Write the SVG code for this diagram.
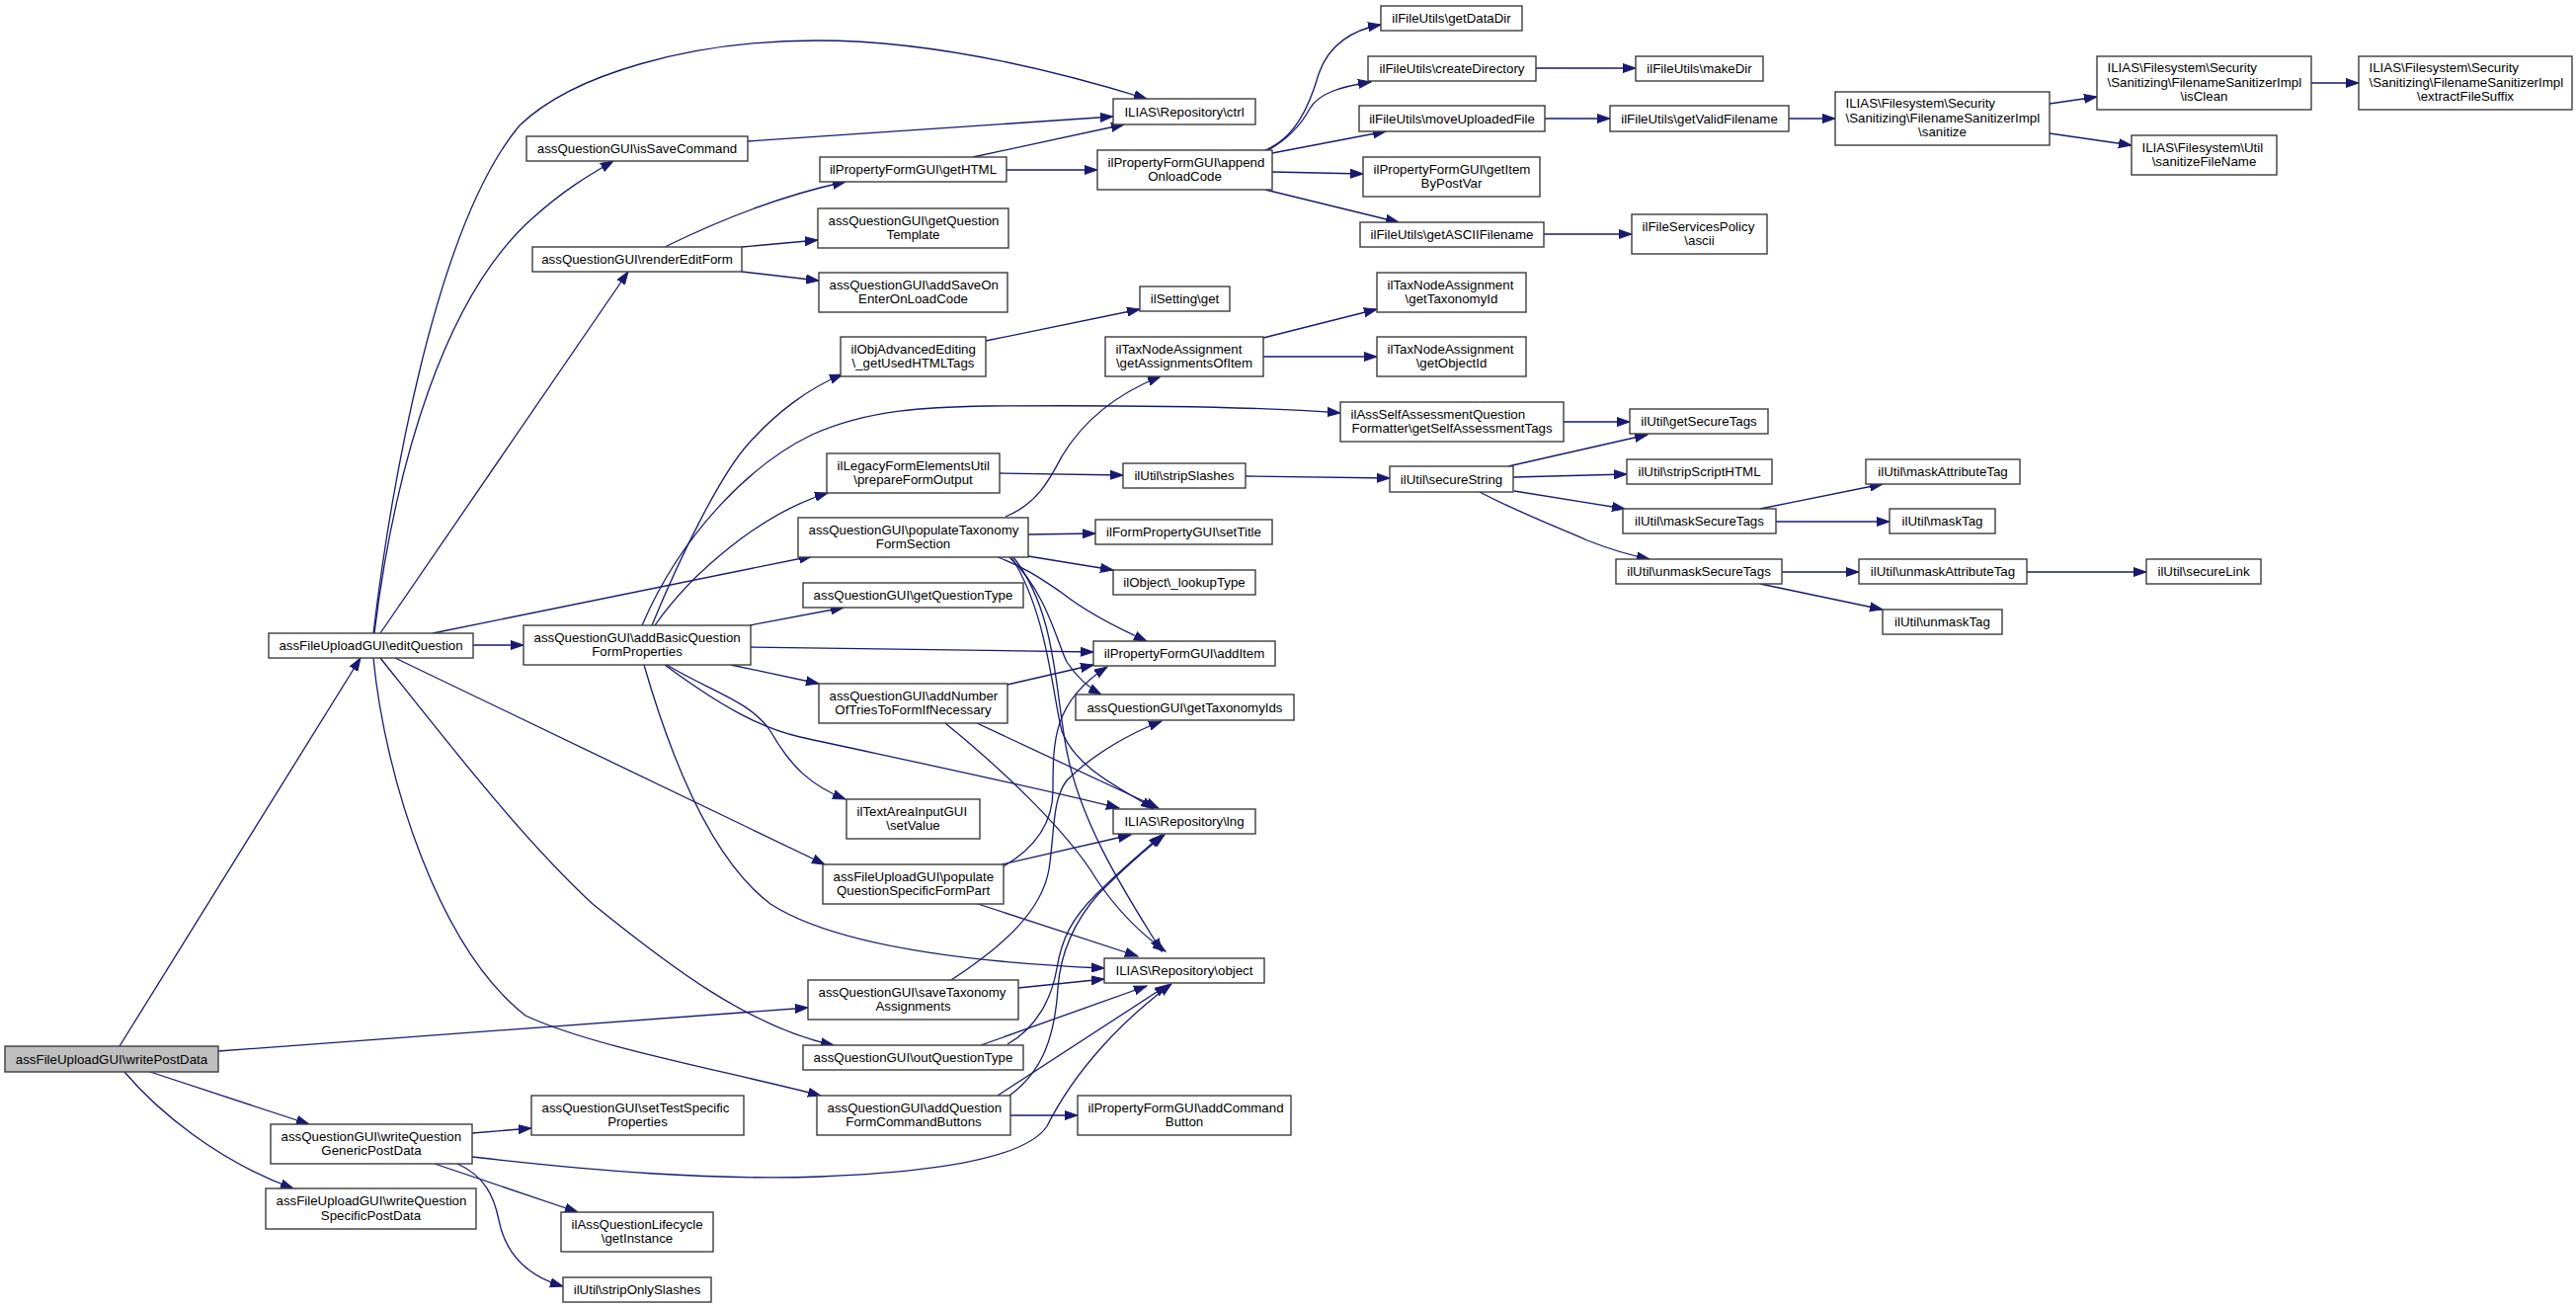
<svg xmlns="http://www.w3.org/2000/svg" width="2608" height="1324" viewBox="0 0 2608 1324">
<defs>
<marker id="arr" markerWidth="14" markerHeight="10" refX="13" refY="5" orient="auto" markerUnits="userSpaceOnUse"><path d="M0,0.5 L13,5 L0,9.5 z" fill="#191970" stroke="#191970" stroke-width="1"/></marker>
<style>
.node rect{fill:#ffffff;stroke:#3c3c3c;stroke-width:1.4}
.node.hl rect{fill:#bfbfbf}
.node text{font-family:"Liberation Sans",Arial,sans-serif;font-size:13.3px;fill:#000}
.c{text-anchor:middle}
.l{text-anchor:start}
#edges path{fill:none;stroke:#191970;stroke-width:1.3;marker-end:url(#arr)}
</style>
</defs>
<rect x="0" y="0" width="2608" height="1324" fill="#ffffff"/>
<g id="edges">
<path d="M121,1059 L365,666"/>
<path d="M221,1064 L818,1020"/>
<path d="M152,1085 L313,1138"/>
<path d="M126,1085 C160,1125 220,1175 297,1203"/>
<path d="M378,641 C395,500 440,230 526,127 C580,75 700,41 827,41 C950,41 1080,75 1161,100"/>
<path d="M379,641 C400,470 450,300 539,221 C570,193 595,178 621,163"/>
<path d="M385,641 L636,275"/>
<path d="M479,653 L530,653"/>
<path d="M438,641 L822,563"/>
<path d="M400,666 L835,875"/>
<path d="M385,666 C460,760 530,850 600,915 C680,980 760,1040 844,1058"/>
<path d="M378,666 C390,790 445,960 532,1028 C600,1060 740,1085 831,1109"/>
<path d="M660,633 C690,560 730,480 757,450 C785,418 820,392 853,379"/>
<path d="M650,633 C690,540 760,470 822,440 C880,414 940,412 1000,411 C1150,410 1280,412 1357,418"/>
<path d="M663,633 C700,580 770,520 838,499"/>
<path d="M759,633 L854,615"/>
<path d="M760,655 L1107,660"/>
<path d="M740,673 L829,692"/>
<path d="M673,673 C730,715 770,737 810,746 C920,770 1040,795 1133,818"/>
<path d="M675,673 C720,700 760,710 780,740 C800,775 820,795 856,809"/>
<path d="M652,673 C680,770 720,870 780,915 C850,960 1000,975 1118,980"/>
<path d="M673,250 C730,222 790,198 856,184"/>
<path d="M751,250 L828,243"/>
<path d="M751,275 L829,284"/>
<path d="M757,143 L1127,118"/>
<path d="M985,159 L1138,126"/>
<path d="M1019,172 L1111,172"/>
<path d="M998,345 L1154,313"/>
<path d="M1018,523 C1050,510 1063,485 1075,462 C1100,420 1140,395 1175,381"/>
<path d="M1041,541 L1109,540"/>
<path d="M1041,563 L1127,577"/>
<path d="M1010,564 C1040,575 1060,590 1075,600 C1100,620 1130,635 1161,649"/>
<path d="M1022,564 C1060,600 1070,650 1080,670 C1090,685 1100,695 1115,703"/>
<path d="M1024,564 C1060,620 1065,700 1075,740 C1090,780 1140,800 1168,819"/>
<path d="M1026,564 C1070,620 1068,700 1080,760 C1095,840 1150,920 1176,963"/>
<path d="M1020,693 L1107,673"/>
<path d="M989,732 L1173,818"/>
<path d="M957,732 C1010,775 1080,840 1110,890 C1130,920 1155,945 1180,963"/>
<path d="M1016,877 C1045,860 1066,835 1066,800 C1066,750 1066,710 1121,675"/>
<path d="M1014,875 L1145,845"/>
<path d="M987,914 L1152,968"/>
<path d="M963,992 C1020,955 1055,920 1062,880 C1068,840 1065,810 1080,790 C1110,760 1150,740 1176,730"/>
<path d="M1031,1000 L1118,991"/>
<path d="M1020,1057 C1050,1040 1065,1010 1070,980 C1075,950 1085,930 1110,905 C1140,875 1160,860 1176,845"/>
<path d="M993,1058 L1161,998"/>
<path d="M1022,1109 C1055,1085 1068,1050 1071,1000 C1074,960 1090,930 1112,905 C1142,875 1162,858 1179,845"/>
<path d="M1010,1109 L1182,997"/>
<path d="M1023,1129 L1091,1129"/>
<path d="M478,1147 L538,1142"/>
<path d="M478,1171 C600,1185 720,1195 831,1191 C960,1186 1040,1170 1060,1140 C1090,1080 1140,1030 1186,996"/>
<path d="M440,1178 L585,1227"/>
<path d="M463,1178 C490,1190 500,1210 505,1235 C512,1270 535,1292 570,1302"/>
<path d="M1279,342 L1394,313"/>
<path d="M1279,361 L1394,361"/>
<path d="M1281,152 C1310,140 1325,110 1335,75 C1345,45 1370,30 1398,25"/>
<path d="M1284,152 C1305,140 1318,125 1326,110 C1335,95 1355,88 1388,83"/>
<path d="M1288,155 L1403,133"/>
<path d="M1288,174 L1380,176"/>
<path d="M1281,192 L1416,225"/>
<path d="M1555,69 L1656,69"/>
<path d="M1564,120 L1630,120"/>
<path d="M1811,120 L1858,120"/>
<path d="M1563,237 L1652,237"/>
<path d="M2075,105 L2123,98"/>
<path d="M2075,135 L2158,147"/>
<path d="M2340,84 L2388,84"/>
<path d="M1583,427 L1650,427"/>
<path d="M1012,479 L1137,481"/>
<path d="M1261,482 L1407,484"/>
<path d="M1527,472 L1668,440"/>
<path d="M1532,483 L1647,480"/>
<path d="M1533,497 L1645,515"/>
<path d="M1498,498 C1540,520 1580,535 1607,547 C1630,556 1650,562 1670,566"/>
<path d="M1782,515 L1906,490"/>
<path d="M1798,528 L1913,528"/>
<path d="M1804,579 L1882,579"/>
<path d="M1782,591 L1906,617"/>
<path d="M2052,579 L2173,579"/>
</g>
<g id="n_writePostData" class="node hl"><rect x="5" y="1059" width="216" height="26"/><text class="c" x="113" y="1076.5">assFileUploadGUI\writePostData</text></g>
<g id="n_editQuestion" class="node"><rect x="272" y="641" width="207" height="25"/><text class="c" x="375.5" y="658">assFileUploadGUI\editQuestion</text></g>
<g id="n_writeQGeneric" class="node"><rect x="274" y="1138" width="204" height="40"/><text class="l" x="284.5" y="1154.6">assQuestionGUI\writeQuestion</text><text class="c" x="376" y="1169">GenericPostData</text></g>
<g id="n_writeQSpecific" class="node"><rect x="269" y="1203" width="213" height="41"/><text class="l" x="279.5" y="1220.1">assFileUploadGUI\writeQuestion</text><text class="c" x="375.5" y="1234.5">SpecificPostData</text></g>
<g id="n_isSaveCommand" class="node"><rect x="533" y="138" width="224" height="25"/><text class="c" x="645" y="155">assQuestionGUI\isSaveCommand</text></g>
<g id="n_renderEditForm" class="node"><rect x="539" y="250" width="212" height="25"/><text class="c" x="645" y="267">assQuestionGUI\renderEditForm</text></g>
<g id="n_addBasic" class="node"><rect x="530" y="633" width="230" height="40"/><text class="l" x="540.5" y="649.6">assQuestionGUI\addBasicQuestion</text><text class="c" x="645" y="664">FormProperties</text></g>
<g id="n_setTestSpecific" class="node"><rect x="538" y="1109" width="215" height="40"/><text class="l" x="548.5" y="1125.6">assQuestionGUI\setTestSpecific</text><text class="c" x="645.5" y="1140">Properties</text></g>
<g id="n_lifecycle" class="node"><rect x="568" y="1227" width="154" height="40"/><text class="l" x="578.5" y="1243.6">ilAssQuestionLifecycle</text><text class="c" x="645" y="1258">\getInstance</text></g>
<g id="n_stripOnlySlashes" class="node"><rect x="570" y="1293" width="150" height="25"/><text class="c" x="645" y="1310">ilUtil\stripOnlySlashes</text></g>
<g id="n_getHTML" class="node"><rect x="830" y="159" width="189" height="25"/><text class="c" x="924.5" y="176">ilPropertyFormGUI\getHTML</text></g>
<g id="n_getQTemplate" class="node"><rect x="828" y="211" width="193" height="40"/><text class="l" x="838.5" y="227.6">assQuestionGUI\getQuestion</text><text class="c" x="924.5" y="242">Template</text></g>
<g id="n_addSaveOn" class="node"><rect x="829" y="276" width="191" height="40"/><text class="l" x="839.5" y="292.6">assQuestionGUI\addSaveOn</text><text class="c" x="924.5" y="307">EnterOnLoadCode</text></g>
<g id="n_objAdv" class="node"><rect x="851" y="341" width="147" height="40"/><text class="l" x="861.5" y="357.6">ilObjAdvancedEditing</text><text class="c" x="924.5" y="372">\_getUsedHTMLTags</text></g>
<g id="n_prepareForm" class="node"><rect x="837" y="459" width="175" height="40"/><text class="l" x="847.5" y="475.6">ilLegacyFormElementsUtil</text><text class="c" x="924.5" y="490">\prepareFormOutput</text></g>
<g id="n_popTax" class="node"><rect x="808" y="524" width="233" height="40"/><text class="l" x="818.5" y="540.6">assQuestionGUI\populateTaxonomy</text><text class="c" x="924.5" y="555">FormSection</text></g>
<g id="n_getQType" class="node"><rect x="813" y="590" width="223" height="25"/><text class="c" x="924.5" y="607">assQuestionGUI\getQuestionType</text></g>
<g id="n_addNumber" class="node"><rect x="829" y="692" width="191" height="40"/><text class="l" x="839.5" y="708.6">assQuestionGUI\addNumber</text><text class="c" x="924.5" y="723">OfTriesToFormIfNecessary</text></g>
<g id="n_setValue" class="node"><rect x="857" y="809" width="135" height="40"/><text class="l" x="867.5" y="825.6">ilTextAreaInputGUI</text><text class="c" x="924.5" y="840">\setValue</text></g>
<g id="n_popQSpecific" class="node"><rect x="833" y="875" width="183" height="40"/><text class="l" x="843.5" y="891.6">assFileUploadGUI\populate</text><text class="c" x="924.5" y="906">QuestionSpecificFormPart</text></g>
<g id="n_saveTax" class="node"><rect x="818" y="992" width="213" height="40"/><text class="l" x="828.5" y="1008.6">assQuestionGUI\saveTaxonomy</text><text class="c" x="924.5" y="1023">Assignments</text></g>
<g id="n_outQType" class="node"><rect x="813" y="1058" width="223" height="25"/><text class="c" x="924.5" y="1075">assQuestionGUI\outQuestionType</text></g>
<g id="n_addQCmd" class="node"><rect x="827" y="1109" width="196" height="40"/><text class="l" x="837.5" y="1125.6">assQuestionGUI\addQuestion</text><text class="c" x="925" y="1140">FormCommandButtons</text></g>
<g id="n_ctrl" class="node"><rect x="1127" y="100" width="144" height="26"/><text class="c" x="1199" y="117.5">ILIAS\Repository\ctrl</text></g>
<g id="n_appendOnload" class="node"><rect x="1111" y="152" width="177" height="40"/><text class="l" x="1121.5" y="168.6">ilPropertyFormGUI\append</text><text class="c" x="1199.5" y="183">OnloadCode</text></g>
<g id="n_settingGet" class="node"><rect x="1154" y="290" width="91" height="25"/><text class="c" x="1199.5" y="307">ilSetting\get</text></g>
<g id="n_getAssign" class="node"><rect x="1119" y="341" width="160" height="40"/><text class="l" x="1129.5" y="357.6">ilTaxNodeAssignment</text><text class="c" x="1199" y="372">\getAssignmentsOfItem</text></g>
<g id="n_stripSlashes" class="node"><rect x="1137" y="469" width="124" height="25"/><text class="c" x="1199" y="486">ilUtil\stripSlashes</text></g>
<g id="n_setTitle" class="node"><rect x="1109" y="526" width="179" height="25"/><text class="c" x="1198.5" y="543">ilFormPropertyGUI\setTitle</text></g>
<g id="n_lookupType" class="node"><rect x="1127" y="577" width="144" height="25"/><text class="c" x="1199" y="594">ilObject\_lookupType</text></g>
<g id="n_addItem" class="node"><rect x="1107" y="649" width="184" height="25"/><text class="c" x="1199" y="666">ilPropertyFormGUI\addItem</text></g>
<g id="n_getTaxIds" class="node"><rect x="1089" y="703" width="221" height="26"/><text class="c" x="1199.5" y="720.5">assQuestionGUI\getTaxonomyIds</text></g>
<g id="n_lng" class="node"><rect x="1127" y="819" width="144" height="25"/><text class="c" x="1199" y="836">ILIAS\Repository\lng</text></g>
<g id="n_object" class="node"><rect x="1118" y="970" width="162" height="25"/><text class="c" x="1199" y="987">ILIAS\Repository\object</text></g>
<g id="n_addCmdButton" class="node"><rect x="1091" y="1109" width="216" height="40"/><text class="l" x="1101.5" y="1125.6">ilPropertyFormGUI\addCommand</text><text class="c" x="1199" y="1140">Button</text></g>
<g id="n_getDataDir" class="node"><rect x="1398" y="6" width="143" height="25"/><text class="c" x="1469.5" y="23">ilFileUtils\getDataDir</text></g>
<g id="n_createDir" class="node"><rect x="1385" y="57" width="170" height="25"/><text class="c" x="1470" y="74">ilFileUtils\createDirectory</text></g>
<g id="n_moveUploaded" class="node"><rect x="1376" y="107" width="188" height="26"/><text class="c" x="1470" y="124.5">ilFileUtils\moveUploadedFile</text></g>
<g id="n_getItemByPostVar" class="node"><rect x="1380" y="159" width="179" height="40"/><text class="l" x="1390.5" y="175.6">ilPropertyFormGUI\getItem</text><text class="c" x="1469.5" y="190">ByPostVar</text></g>
<g id="n_getASCII" class="node"><rect x="1377" y="225" width="186" height="25"/><text class="c" x="1470" y="242">ilFileUtils\getASCIIFilename</text></g>
<g id="n_getTaxonomyId" class="node"><rect x="1394" y="276" width="151" height="40"/><text class="l" x="1404.5" y="292.6">ilTaxNodeAssignment</text><text class="c" x="1469.5" y="307">\getTaxonomyId</text></g>
<g id="n_getObjectId" class="node"><rect x="1394" y="341" width="151" height="40"/><text class="l" x="1404.5" y="357.6">ilTaxNodeAssignment</text><text class="c" x="1469.5" y="372">\getObjectId</text></g>
<g id="n_selfAssess" class="node"><rect x="1357" y="407" width="226" height="40"/><text class="l" x="1367.5" y="423.6">ilAssSelfAssessmentQuestion</text><text class="c" x="1470" y="438">Formatter\getSelfAssessmentTags</text></g>
<g id="n_secureString" class="node"><rect x="1407" y="472" width="125" height="26"/><text class="c" x="1469.5" y="489.5">ilUtil\secureString</text></g>
<g id="n_makeDir" class="node"><rect x="1656" y="57" width="129" height="25"/><text class="c" x="1720.5" y="74">ilFileUtils\makeDir</text></g>
<g id="n_getValidFilename" class="node"><rect x="1630" y="107" width="181" height="26"/><text class="c" x="1720.5" y="124.5">ilFileUtils\getValidFilename</text></g>
<g id="n_policyAscii" class="node"><rect x="1652" y="217" width="137" height="40"/><text class="l" x="1662.5" y="233.6">ilFileServicesPolicy</text><text class="c" x="1720.5" y="248">\ascii</text></g>
<g id="n_getSecureTags" class="node"><rect x="1650" y="414" width="140" height="25"/><text class="c" x="1720" y="431">ilUtil\getSecureTags</text></g>
<g id="n_stripScript" class="node"><rect x="1647" y="465" width="147" height="25"/><text class="c" x="1720.5" y="482">ilUtil\stripScriptHTML</text></g>
<g id="n_maskSecure" class="node"><rect x="1643" y="515" width="155" height="25"/><text class="c" x="1720.5" y="532">ilUtil\maskSecureTags</text></g>
<g id="n_unmaskSecure" class="node"><rect x="1636" y="566" width="168" height="25"/><text class="c" x="1720" y="583">ilUtil\unmaskSecureTags</text></g>
<g id="n_sanitize" class="node"><rect x="1858" y="93" width="217" height="54"/><text class="l" x="1868.5" y="109.4">ILIAS\Filesystem\Security</text><text class="l" x="1868.5" y="123.8">\Sanitizing\FilenameSanitizerImpl</text><text class="c" x="1966.5" y="138.2">\sanitize</text></g>
<g id="n_maskAttr" class="node"><rect x="1889" y="465" width="156" height="25"/><text class="c" x="1967" y="482">ilUtil\maskAttributeTag</text></g>
<g id="n_maskTag" class="node"><rect x="1913" y="515" width="107" height="25"/><text class="c" x="1966.5" y="532">ilUtil\maskTag</text></g>
<g id="n_unmaskAttr" class="node"><rect x="1882" y="566" width="170" height="25"/><text class="c" x="1967" y="583">ilUtil\unmaskAttributeTag</text></g>
<g id="n_unmaskTag" class="node"><rect x="1906" y="617" width="121" height="25"/><text class="c" x="1966.5" y="634">ilUtil\unmaskTag</text></g>
<g id="n_isClean" class="node"><rect x="2123" y="57" width="217" height="54"/><text class="l" x="2133.5" y="73.4">ILIAS\Filesystem\Security</text><text class="l" x="2133.5" y="87.8">\Sanitizing\FilenameSanitizerImpl</text><text class="c" x="2231.5" y="102.2">\isClean</text></g>
<g id="n_sanitizeFileName" class="node"><rect x="2158" y="137" width="147" height="40"/><text class="l" x="2168.5" y="153.6">ILIAS\Filesystem\Util</text><text class="c" x="2231.5" y="168">\sanitizeFileName</text></g>
<g id="n_secureLink" class="node"><rect x="2173" y="566" width="116" height="25"/><text class="c" x="2231" y="583">ilUtil\secureLink</text></g>
<g id="n_extractSuffix" class="node"><rect x="2388" y="57" width="216" height="54"/><text class="l" x="2398.5" y="73.4">ILIAS\Filesystem\Security</text><text class="l" x="2398.5" y="87.8">\Sanitizing\FilenameSanitizerImpl</text><text class="c" x="2496" y="102.2">\extractFileSuffix</text></g>
</svg>
